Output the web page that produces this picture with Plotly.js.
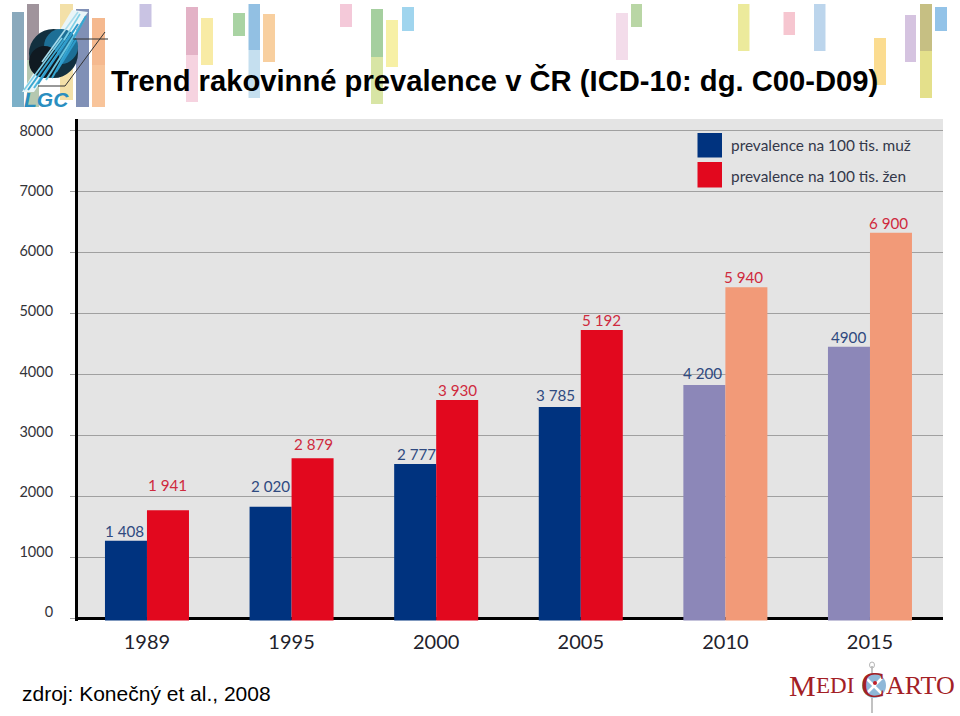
<!DOCTYPE html>
<html>
<head>
<meta charset="utf-8">
<script src="https://cdn.plot.ly/plotly-3.0.1.min.js"></script>
<style>html,body{margin:0;padding:0;background:#fff}</style>
</head>
<body>
<div id="chart" style="width:960px;height:716px"></div>
<script>
// ---- data ----
const categories = ['1989','1995','2000','2005','2010','2015'];
const maleHeights = [1272,1830,2530,3464,3825,4452];
const femaleHeights = [1770,2623,3579,4726,5426,6321];
const maleLabels = ['1 408','2 020','2 777','3 785','4 200','4900'];
const femaleLabels = ['1 941','2 879','3 930','5 192','5 940','6 900'];
const maleColors = ['#00337f','#00337f','#00337f','#00337f','#8c87b8','#8c87b8'];
const femaleColors = ['#e2081e','#e2081e','#e2081e','#e2081e','#f29a78','#f29a78'];
const yTicks = [0,1000,2000,3000,4000,5000,6000,7000,8000];
const maleName = 'prevalence na 100 tis. muž';
const femaleName = 'prevalence na 100 tis. žen';
const titleText = 'Trend rakovinné prevalence v ČR (ICD-10: dg. C00-D09)';
const sourceText = 'zdroj: Konečný et al., 2008';
// decorative header blocks: x0, x1, y0, y1, colour
const headerBlocks = [
 [12,24,12,60,'#8aa9bc'],[12,24,60,107,'#7cb0c8'],[27,39,4,60,'#a0949c'],[27,39,60,107,'#b5c8b0'],
 [60,73,4,100,'#f3e0a8'],[76,89,9,107,'#8090b6'],[92,105,18,65,'#f5b98f'],[92,105,65,107,'#f8c49a'],
 [139.5,151.5,4,27,'#c9c3e3'],[186,198,7,55,'#e3b2c6'],[186,198,55,102,'#f6d3e0'],[201,213,18,65,'#f8eba5'],
 [233,245,13,36,'#a9d3a3'],[248.5,260,4,50,'#92c0e3'],[248.5,260,50,98,'#c5dfef'],[263,275,14,62,'#f8cf9f'],
 [340,352,4,27,'#f4c9d9'],[371,383,9,57,'#a5cf9f'],[371,383,57,104,'#d8e5a5'],[386,398,20,67,'#f7f0a5'],
 [402,414,7,31,'#a0d5ee'],[616,628,13,60,'#f3dcea'],[631,642,4,27,'#b9d6a5'],[738,749.5,4,51,'#ecea9c'],
 [783.5,795,12,35,'#f6c6d0'],[814,825.5,4,51,'#bcd5ec'],[874,886,38,85,'#fbdc90'],[905,916,15,62,'#d5c3e0'],
 [920,932,4,51,'#c6bf83'],[920,932,51,98,'#e4e08b'],[935,947,7,31,'#93c3e8']
];
// ---- layout helpers ----
const L=78,R=943,T=119,B=621;
const px=x=>(x-L)/(R-L), py=y=>(B-y)/(B-T);
const rect=(x0,x1,y0,y1,c,extra)=>Object.assign({type:'rect',xref:'paper',yref:'paper',x0:px(x0),x1:px(x1),y0:py(y0),y1:py(y1),fillcolor:c,line:{width:0}},extra||{});
const seg=(x0,y0,x1,y1,c,w)=>({type:'line',xref:'paper',yref:'paper',x0:px(x0),x1:px(x1),y0:py(y0),y1:py(y1),line:{color:c,width:w}});
const disc=(x0,x1,y0,y1,c)=>({type:'circle',xref:'paper',yref:'paper',x0:px(x0),x1:px(x1),y0:py(y0),y1:py(y1),fillcolor:c,line:{width:0}});
const label=(x,y,t,size,color,family,anchor,extra)=>Object.assign({xref:'paper',yref:'paper',x:px(x),y:py(y),text:t,showarrow:false,xanchor:anchor||'left',yanchor:'middle',font:{size:size,color:color,family:family},borderpad:0},extra||{});

const shapes=[];
headerBlocks.forEach(b=>shapes.push(rect(b[0],b[1],b[2],b[3],b[4])));
// LGC logo: pale band, globe, diagonal streaks, frame lines
shapes.push({type:'path',xref:'paper',yref:'paper',path:`M ${px(22)} ${py(92)} L ${px(34)} ${py(92)} L ${px(88)} ${py(12)} L ${px(72)} ${py(10)} Z`,fillcolor:'#eaf5f8',line:{width:0}});
shapes.push(disc(29,78,29,78,'#12303f'));
shapes.push(disc(44,78,29,64,'#1d6f96'));
shapes.push(disc(29,60,46,78,'#101a22'));
[[24,90,62,38,'#7fd0e6',1.6],[28,90,68,34,'#38a6d0',2],[34,88,74,30,'#4fb8dc',2],[38,84,78,24,'#2e9ccc',2],[46,80,84,20,'#6cc6e0',2],[52,78,86,16,'#38a6d0',2],[42,62,78,12,'#a8dcec',1.6],[56,72,76,40,'#2e9ccc',2],[64,40,80,14,'#7fd0e6',1.6]]
 .forEach(s=>shapes.push(seg(s[0],s[1],s[2],s[3],s[4],s[5])));
shapes.push(seg(73,39,108,39,'#333333',1));
shapes.push(seg(105,32,65,86,'#333333',1));
shapes.push(seg(65,86,38,86,'#333333',1));
// white strip below zero
shapes.push({type:'rect',xref:'paper',yref:'y',x0:0,x1:1,y0:-60,y1:0,fillcolor:'#ffffff',line:{width:0},layer:'below'});
// legend swatches
shapes.push(rect(697.5,722,133,157.5,'#00337f'));
shapes.push(rect(697.5,722,162,187.5,'#e2081e'));
// Medicarto emblem
shapes.push(seg(872,666,872,673,'#b0b0b0',1.5));
shapes.push({type:'circle',xref:'paper',yref:'paper',x0:px(869.5),x1:px(874.5),y0:py(662),y1:py(668),fillcolor:'rgba(0,0,0,0)',line:{color:'#b5b5b5',width:1}});
shapes.push(seg(872,698,872,713,'#999999',1.2));
shapes.push(disc(862,886,673,698,'#8fb8d8'));
shapes.push(seg(866,678,882,694,'#ffffff',2.5));
shapes.push(seg(882,678,866,694,'#ffffff',2.5));
shapes.push(disc(873,877,681,685,'#c0202a'));

// nudges of the printed value labels in px: [dx, up]
const labelNudge={'1 408':[-1,0],'1 941':[0,15],'2 020':[0,11],'2 879':[1,4],'2 777':[1,0],'3 930':[0,0],'3 785':[-4,2],'5 192':[0,0],'4 200':[-2,2],'5 940':[-3,0],'4900':[0,0],'6 900':[-2,0]};
const valueLabels=(labels,heights,side,color)=>labels.map((t,i)=>({
  xref:'x',yref:'y',x:i,y:heights[i],text:t,showarrow:false,yanchor:'bottom',xanchor:'center',
  xshift:side*21+labelNudge[t][0],yshift:labelNudge[t][1],
  font:{size:15.2,color:color,family:'Lato, sans-serif'},borderpad:0
}));

const annotations=[
 label(21,693,sourceText,21,'#000','"Liberation Sans", Arial, sans-serif'),
 label(730,145,maleName,15.4,'#33384a','Lato, sans-serif'),
 label(730,175.5,femaleName,15.4,'#33384a','Lato, sans-serif'),
 label(46,99,'<b><i>LGC</i></b>',21,'#2a8ec0','"Liberation Sans", Arial, sans-serif','center'),
 label(788,685,'M',30,'#a32025','"Liberation Serif", serif'),
 label(815,686,'EDI',23,'#a32025','"Liberation Serif", serif'),
 label(860,685,'C',36,'#a32025','"Liberation Serif", serif'),
 label(885,686,'ARTO',26,'#a32025','"Liberation Serif", serif')
].concat(valueLabels(maleLabels,maleHeights,-1,'#2f4a80'),valueLabels(femaleLabels,femaleHeights,1,'#cf2a3e'));

const zeroBase=-35;
const barTrace=(name,h,colors)=>({
  type:'bar',name:name,x:categories,y:h.map(v=>v-zeroBase),base:zeroBase,
  marker:{color:colors,line:{width:0}},hoverinfo:'skip'
});
const traces=[
  barTrace(maleName,maleHeights,maleColors),
  barTrace(femaleName,femaleHeights,femaleColors),
  {type:'scatter',x:categories,y:yTicks.slice(0,6),yaxis:'y2',mode:'markers',marker:{opacity:0,size:1},hoverinfo:'skip',showlegend:false}
];

const layout={
  width:960,height:716,
  margin:{l:L,r:960-R,t:T,b:716-B,pad:0},
  paper_bgcolor:'#ffffff',plot_bgcolor:'#e4e4e4',
  showlegend:false,
  barmode:'group',bargap:0.419,bargroupgap:0,
  title:{text:'<b>'+titleText+'</b>',x:111/960,xanchor:'left',xref:'container',y:(716-81)/716,yanchor:'middle',
         font:{size:29.2,color:'#000',family:'"Liberation Sans", Arial, sans-serif'},pad:{t:0,b:0,l:0,r:0}},
  xaxis:{type:'category',categoryorder:'array',categoryarray:categories,range:[-0.477,5.505],
    showgrid:false,showline:false,zeroline:false,ticks:'outside',ticklen:3,tickcolor:'rgba(0,0,0,0)',
    tickfont:{size:20,color:'#22222c',family:'Lato, sans-serif'}},
  yaxis:{range:[-44,8185],tickvals:yTicks,showticklabels:false,ticks:'outside',ticklen:5,tickcolor:'#a0a0a0',tickwidth:1.3,
    showgrid:true,gridcolor:'#a0a0a0',gridwidth:1.3,
    zeroline:true,zerolinecolor:'#000',zerolinewidth:3,
    showline:true,linecolor:'#000',linewidth:3},
  yaxis2:{overlaying:'y',side:'left',range:[-150,8200],tickvals:yTicks,tickformat:'d',showgrid:false,zeroline:false,showline:false,
    ticks:'outside',ticklen:21,tickcolor:'rgba(0,0,0,0)',
    tickfont:{size:14.5,color:'#333338',family:'Lato, sans-serif'}},
  shapes:shapes,annotations:annotations
};
Plotly.newPlot('chart',traces,layout,{displayModeBar:false,staticPlot:true});
</script>
</body>
</html>
